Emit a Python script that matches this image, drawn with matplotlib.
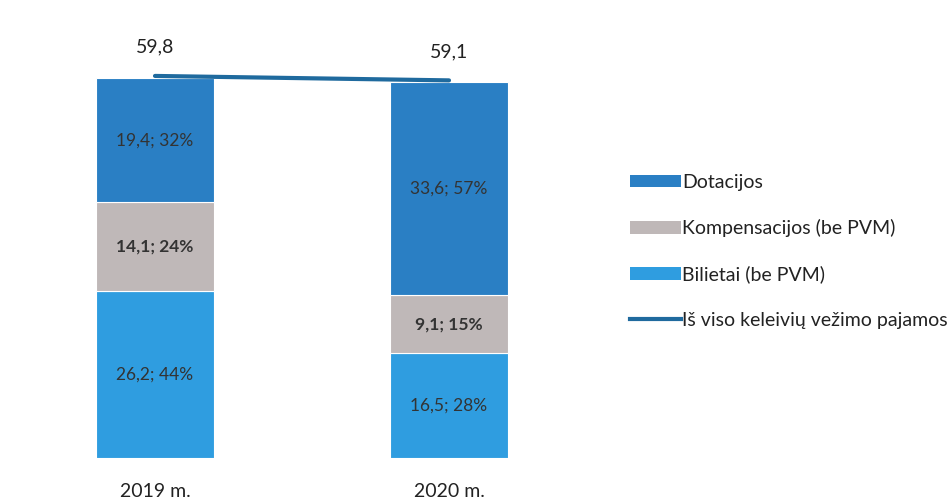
import matplotlib
matplotlib.use("Agg")
import matplotlib.pyplot as plt
from matplotlib.patches import Patch
from matplotlib.lines import Line2D

categories = ["2019 m.", "2020 m."]
bilietai = [26.2, 16.5]
kompensacijos = [14.1, 9.1]
dotacijos = [19.4, 33.6]
totals = [59.8, 59.1]
bil_pct = [44, 28]
komp_pct = [24, 15]
dot_pct = [32, 57]

c_dot = "#2a7fc4"
c_komp = "#bfb8b8"
c_bil = "#2f9de0"
c_line = "#1f6a9e"
txt = "#333333"

plt.rcParams['font.family'] = ['Lato', 'DejaVu Sans']

fig = plt.figure(figsize=(9.53, 5.03), dpi=100)
ax = fig.add_axes([8/953, 1-458/503, 588/953, 445/503])
x = list(range(len(categories)))
w = 0.4
ax.bar(x, bilietai, w, color=c_bil, edgecolor="white", linewidth=0.8)
ax.bar(x, kompensacijos, w, bottom=bilietai, color=c_komp, edgecolor="white", linewidth=0.8)
b2 = [a + b for a, b in zip(bilietai, kompensacijos)]
ax.bar(x, dotacijos, w, bottom=b2, color=c_dot, edgecolor="white", linewidth=0.8)
ax.plot(x, [t + 0.3 for t in totals], color=c_line, linewidth=3, solid_capstyle="round")

def fmt(v):
    return f"{v:.1f}".replace(".", ",")

for i in x:
    ax.text(i, bilietai[i] / 2, f"{fmt(bilietai[i])}; {bil_pct[i]}%", ha="center", va="center", fontsize=12.5, color=txt)
    ax.text(i, bilietai[i] + kompensacijos[i] / 2, f"{fmt(kompensacijos[i])}; {komp_pct[i]}%", ha="center", va="center", fontsize=12.5, color=txt, fontweight="bold")
    ax.text(i, b2[i] + dotacijos[i] / 2, f"{fmt(dotacijos[i])}; {dot_pct[i]}%", ha="center", va="center", fontsize=12.5, color=txt)
    ax.text(i, totals[i] + 4.8, fmt(totals[i]), ha="center", va="center", fontsize=14, color="#222222")
    ax.text(i, -5.2, categories[i], ha="center", va="center", fontsize=14, color="#222222")

ax.set_xlim(-0.5, 1.5)
ax.set_ylim(0, 70)
ax.axis("off")

handles = [Patch(facecolor=c_dot), Patch(facecolor=c_komp), Patch(facecolor=c_bil),
           Line2D([0], [0], color=c_line, linewidth=3)]
labels = ["Dotacijos", "Kompensacijos (be PVM)", "Bilietai (be PVM)", "Iš viso keleivių vežimo pajamos"]
fig.legend(handles, labels, loc="upper left", bbox_to_anchor=(630/953, 1-174/503), frameon=False,
           fontsize=14, handlelength=2.6, handleheight=0.6, handletextpad=0.1, labelspacing=1.45,
           labelcolor="#222222", borderaxespad=0, borderpad=0)

fig.savefig("out.png", dpi=100, facecolor="white")
